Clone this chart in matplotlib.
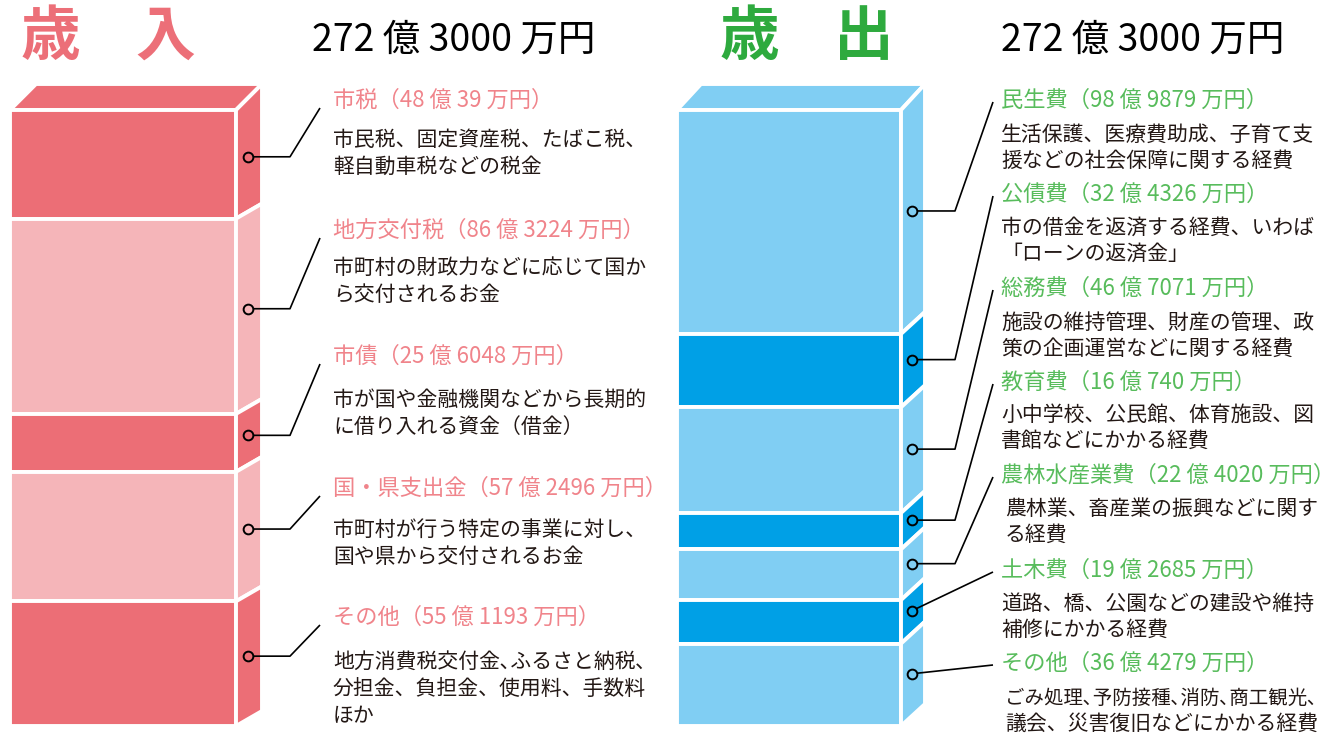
import matplotlib
matplotlib.use("Agg")
import matplotlib.pyplot as plt
from matplotlib.patches import Polygon
import numpy as np

plt.rcParams['font.family'] = ['Noto Sans CJK JP', 'DejaVu Sans']

W, H = 1335, 736

# 歳入
rev_names = ['市税', '地方交付税', '市債', '国・県支出金', 'その他']
rev_oku = [48, 86, 25, 57, 55]
rev_man = [39, 3224, 6048, 2496, 1193]
rev_desc = [
    ['市民税、固定資産税、たばこ税、', '軽自動車税などの税金'],
    ['市町村の財政力などに応じて国か', 'ら交付されるお金'],
    ['市が国や金融機関などから長期的', 'に借り入れる資金（借金）'],
    ['市町村が行う特定の事業に対し、', '国や県から交付されるお金'],
    ['地方消費税交付金､ふるさと納税､', '分担金、負担金、使用料、手数料', 'ほか'],
]

# 歳出
exp_names = ['民生費', '公債費', '総務費', '教育費', '農林水産業費', '土木費', 'その他']
exp_oku = [98, 32, 46, 16, 22, 19, 36]
exp_man = [9879, 4326, 7071, 740, 4020, 2685, 4279]
exp_desc = [
    ['生活保護、医療費助成、子育て支', '援などの社会保障に関する経費'],
    ['市の借金を返済する経費、いわば', '「ローンの返済金」'],
    ['施設の維持管理、財産の管理、政', '策の企画運営などに関する経費'],
    ['小中学校、公民館、体育施設、図', '書館などにかかる経費'],
    ['農林業、畜産業の振興などに関す', 'る経費'],
    ['道路、橋、公園などの建設や維持', '補修にかかる経費'],
    ['ごみ処理､予防接種､消防､商工観光､', '議会、災害復旧などにかかる経費'],
]

pink_dark, pink_light = '#EC6E76', '#F5B5B9'
blue_light, blue_dark = '#80CEF3', '#00A0E6'
pink_title, pink_label = '#EC6F78', '#F0848B'
green_title, green_label = '#2EAA3E', '#58BC5C'
ink = '#231815'

fig = plt.figure(figsize=(W / 100, H / 100), dpi=100)
ax = fig.add_axes([0, 0, 1, 1])
ax.set_xlim(0, W)
ax.set_ylim(H, 0)
ax.axis('off')
ax.set_zorder(3)
ax.patch.set_visible(False)


def draw_block(x0, front_w, side_w, top_y, bottom_y, oku, man, colors, slant, top_slant):
    values = [o + m / 10000 for o, m in zip(oku, man)]
    total = sum(values)
    bax = fig.add_axes([x0 / W, 1 - bottom_y / H, (front_w + side_w) / W, (bottom_y - top_y) / H])
    bax.set_xlim(0, front_w + side_w)
    bax.set_ylim(total, 0)
    bax.axis('off')
    k = total / (bottom_y - top_y)
    s, t = slant * k, top_slant * k
    edges = np.concatenate([[0], np.cumsum(values)])
    style = dict(ec='white', lw=2.8, joinstyle='miter', clip_on=False)
    bax.add_patch(Polygon([(0, 0), (front_w, 0), (front_w + side_w, -t), (side_w, -t)],
                          fc=colors[0], **style))
    dots = []
    for i, (c0, c1) in enumerate(zip(edges[:-1], edges[1:])):
        col = colors[i % 2]
        bax.add_patch(Polygon([(0, c0), (front_w, c0), (front_w, c1), (0, c1)], fc=col, **style))
        up = t if i == 0 else s
        bax.add_patch(Polygon([(front_w, c0), (front_w + side_w, c0 - up),
                               (front_w + side_w, c1 - s), (front_w, c1)], fc=col, **style))
        p = bax.transData.transform((front_w + side_w * 0.45, (c0 + c1) / 2 - s / 2))
        dots.append((ax.transData.inverted().transform(p), col))
    return total, dots


def labels(names, oku, man, desc, dots, x_text, title_y, desc_y, gap, color, knee_x, end_dx,
           end_dy, desc_dx, small_idx):
    for i, name in enumerate(names):
        (dx, dy), col = dots[i]
        ex, ey = x_text + end_dx, title_y[i] + end_dy
        if knee_x[i] is None:
            xs, ys = [dx, ex], [dy, ey]
        else:
            xs, ys = [dx, knee_x[i], ex], [dy, dy, ey]
        ax.plot(xs, ys, color='black', lw=1.2, zorder=2, solid_capstyle='butt')
        ax.plot(dx, dy, marker='o', ms=7, mfc=col, mec='black', mew=1.4, zorder=4)
        ax.text(x_text, title_y[i], f'{name}（{oku[i]} 億 {man[i]} 万円）', fontsize=16,
                color=color, va='center', ha='left')
        for j, line in enumerate(desc[i]):
            size = 14 if (i in small_idx and j == 0) else 15
            ax.text(x_text + desc_dx[i], desc_y[i] + j * gap, line, fontsize=size,
                    color=ink, va='center', ha='left')


rev_total, rev_dots = draw_block(10, 226, 26, 110, 726, rev_oku, rev_man,
                                 [pink_dark, pink_light], 15, 26)
exp_total, exp_dots = draw_block(677, 224, 24, 110, 726, exp_oku, exp_man,
                                 [blue_light, blue_dark], 22, 26)

labels(rev_names, rev_oku, rev_man, rev_desc, rev_dots, 333,
       [100, 230, 356, 488, 617], [140, 268, 400, 530, 662], 27, pink_label,
       [290] * 5, -13, 8, [0] * 5, [])
labels(exp_names, exp_oku, exp_man, exp_desc, exp_dots, 1001,
       [100, 194, 288, 382, 475, 570, 663], [135, 228, 323, 415, 509, 604, 698], 26,
       green_label, [955, 955, 955, 955, 955, None, None], -8, 2,
       [0, 0, 0, 0, 4, 0, 4], [6])

# headings
big = dict(fontsize=43, fontweight='bold', va='center', ha='center')
ax.text(50, 38, '歳', color=pink_title, **big)
ax.text(165, 38, '入', color=pink_title, **big)
ax.text(749, 38, '歳', color=green_title, **big)
ax.text(864, 38, '出', color=green_title, **big)


def total_text(v):
    oku = int(v + 1e-6)
    man = int(round((v - oku) * 10000))
    return f'{oku} 億 {man} 万円'


ax.text(312, 40, total_text(rev_total), fontsize=27, color='black', va='center', ha='left')
ax.text(1001, 40, total_text(exp_total), fontsize=27, color='black', va='center', ha='left')

fig.savefig('out.png', dpi=100)
